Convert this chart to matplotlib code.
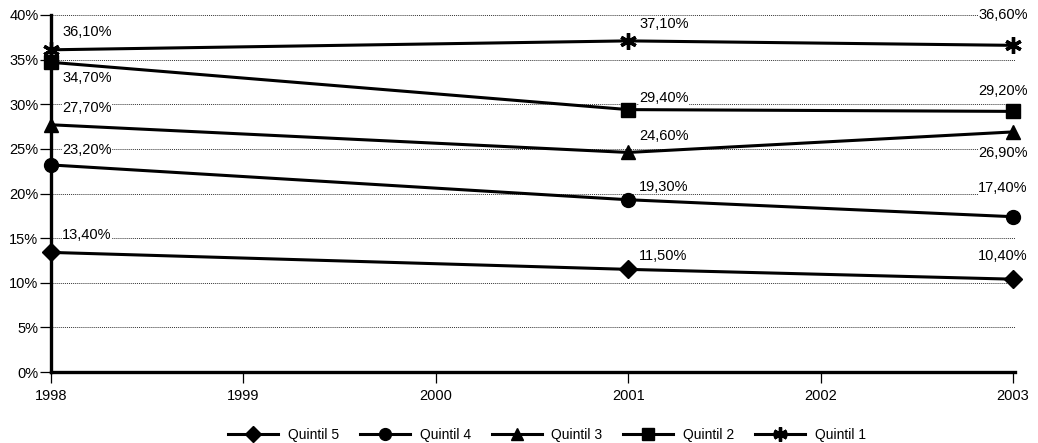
import numpy as np
import matplotlib
matplotlib.use("Agg")
import matplotlib.pyplot as plt

plt.rcParams['font.family'] = ['Liberation Sans', 'DejaVu Sans']

years = [1998, 2001, 2003]
xticks = [1998, 1999, 2000, 2001, 2002, 2003]
q5 = [13.4, 11.5, 10.4]
q4 = [23.2, 19.3, 17.4]
q3 = [27.7, 24.6, 26.9]
q2 = [34.7, 29.4, 29.2]
q1 = [36.1, 37.1, 36.6]
names_q = ["Quintil 5", "Quintil 4", "Quintil 3", "Quintil 2", "Quintil 1"]

series = [q5, q4, q3, q2, q1]
markers = ["D", "o", "^", "s", (6, 2, 0)]
msizes = [9, 10, 10, 10, 12]

# label offsets in pixels (dx, dy) per series/point
offsets = [
    [(11, 17), (11, 13), (-10, 23)],
    [(11, 15), (11, 13), (-10, 29)],
    [(11, 17), (11, 16), (-10, -21)],
    [(11, -16), (11, 12), (-10, 20)],
    [(11, 18), (11, 17), (-10, 30)],
]

fig = plt.figure(figsize=(10.38, 4.43), dpi=100)
ax = fig.add_axes([51 / 1038, 1 - 372 / 443, 964 / 1038, 357 / 443])

for vals, mk, ms, lab, offs in zip(series, markers, msizes, names_q, offsets):
    mew = 2.4 if isinstance(mk, tuple) else 1
    ax.plot(years, vals, color="black", lw=2.2, marker=mk, ms=ms, mew=mew,
            mfc="black", mec="black", label=lab, clip_on=False, zorder=5)
    for x, v, (dx, dy) in zip(years, vals, offs):
        txt = f"{v:.2f}%".replace(".", ",")
        ha = "left" if dx > 0 else "center"
        ax.annotate(txt, (x, v), xytext=(dx * 0.72, dy * 0.72),
                    textcoords="offset points", ha=ha, va="center",
                    fontsize=10.5, zorder=4,
                    bbox=dict(facecolor="white", edgecolor="none", pad=0.3))

ax.set_xlim(1998, 2003.01)
ax.set_ylim(0, 40)
ax.set_xticks(xticks)
ax.set_xticklabels([str(y) for y in xticks])
ax.set_yticks(np.arange(0, 41, 5))
ax.set_yticklabels([f"{t}%" for t in range(0, 41, 5)])
ax.yaxis.grid(True, linestyle=(0, (1, 1)), color="#333333", lw=0.7)
ax.set_axisbelow(True)
for s in ["top", "right"]:
    ax.spines[s].set_linewidth(0)
for s in ["left", "bottom"]:
    ax.spines[s].set_linewidth(2.4)
ax.tick_params(axis="both", labelsize=10.5, length=8, width=0.9, direction="out")
ax.tick_params(axis="x", pad=4)
ax.tick_params(axis="y", pad=1)

fig.legend(loc="lower center", bbox_to_anchor=(0.527, -0.025), ncol=5, frameon=False,
           fontsize=10, handlelength=3.6, handletextpad=0.7, columnspacing=1.5,
           markerscale=0.85)

fig.savefig("out.png", dpi=100)
